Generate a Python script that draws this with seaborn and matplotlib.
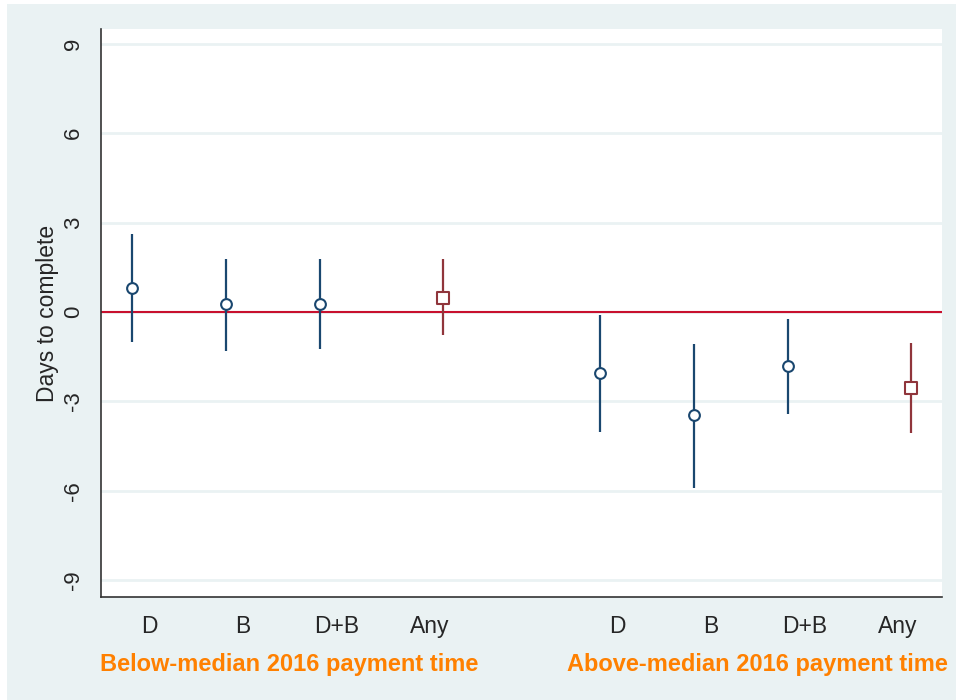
import numpy as np
import pandas as pd
import seaborn as sns
import matplotlib.pyplot as plt
from matplotlib.patches import Rectangle

# estimates (days to complete)
groups = ['Below-median 2016 payment time', 'Above-median 2016 payment time']
treatments = ['D', 'B', 'D+B', 'Any']
coef_below = [0.82, 0.26, 0.26, 0.48]
lo_below = [-1.01, -1.30, -1.25, -0.78]
hi_below = [2.62, 1.77, 1.77, 1.77]
coef_above = [-2.05, -3.47, -1.82, -2.54]
lo_above = [-4.02, -5.92, -3.43, -4.06]
hi_above = [-0.10, -1.07, -0.25, -1.03]

BG = '#eaf2f3'
BLUE = '#1a476f'
MAROON = '#90353b'
ORANGE = '#ff8000'

sns.set_style('white')
plt.rcParams['font.family'] = ['Liberation Sans', 'DejaVu Sans']

rows = []
for g, (c, lo, hi) in enumerate([(coef_below, lo_below, hi_below),
                                 (coef_above, lo_above, hi_above)]):
    for i, t in enumerate(treatments):
        slot = g * 5 + i + 1
        kind = 'any' if t == 'Any' else 'single'
        rows.append({'group': groups[g], 'treat': t, 'slot': slot,
                     'kind': kind, 'coef': c[i], 'lo': lo[i], 'hi': hi[i]})
df = pd.DataFrame(rows)
# coefplot-style offsets: single treatments a bit left, pooled "Any" a bit right
df['x'] = df['slot'] + np.where(df['kind'] == 'any', 0.14, -0.18)

fig = plt.figure(figsize=(9.56, 7.0), dpi=100)
fig.patch.set_facecolor('white')
fig.patches.append(Rectangle((7 / 956, 0), 1, 1 - 4 / 700, transform=fig.transFigure,
                             facecolor=BG, edgecolor='none', zorder=-10))
ax = fig.add_axes([101 / 956, 1 - 597 / 700, (942 - 101) / 956, (597 - 29) / 700])
ax.set_facecolor('white')

yticks = np.arange(-9, 10, 3)
for yt in yticks:
    ax.axhline(yt, color=BG, lw=2, zorder=0)
ax.axhline(0, color='#c8102e', lw=1.5, zorder=1)

palette = {'single': BLUE, 'any': MAROON}
markers = {'single': 'o', 'any': 's'}
msize = {'single': 60, 'any': 75}
for kind, sub in df.groupby('kind'):
    ax.vlines(sub['x'], sub['lo'], sub['hi'], color=palette[kind], lw=1.6, zorder=2)
    sns.scatterplot(data=sub, x='x', y='coef', marker=markers[kind], s=msize[kind],
                    facecolor='white', edgecolor=palette[kind], linewidth=1.5,
                    legend=False, ax=ax, zorder=3)

ax.set_xlim(0.485, 9.47)
ax.set_ylim(-9.56, 9.49)
ax.set_yticks(yticks)
ax.set_yticklabels([str(v) for v in yticks], rotation=90, va='center', fontsize=16)
ax.set_xticks(df['slot'])
ax.set_xticklabels(df['treat'], fontsize=16.5)
ax.tick_params(axis='both', which='both', direction='out', length=6, width=1,
               color='#333333')
ax.tick_params(axis='y', pad=6)
ax.tick_params(axis='x', pad=7)
ax.set_ylabel('Days to complete', fontsize=16.5, labelpad=3)
ax.set_xlabel('')

for side in ['top', 'right']:
    ax.spines[side].set_visible(False)
for side in ['left', 'bottom']:
    ax.spines[side].set_color('#333333')
    ax.spines[side].set_linewidth(1.2)

for g, sub in df.groupby('group', sort=False):
    ax.text(sub['slot'].mean(), -0.118, g, transform=ax.get_xaxis_transform(),
            ha='center', va='center', color=ORANGE, fontsize=17,
            fontweight='bold')

fig.savefig('out.png', dpi=100, facecolor=fig.get_facecolor())
